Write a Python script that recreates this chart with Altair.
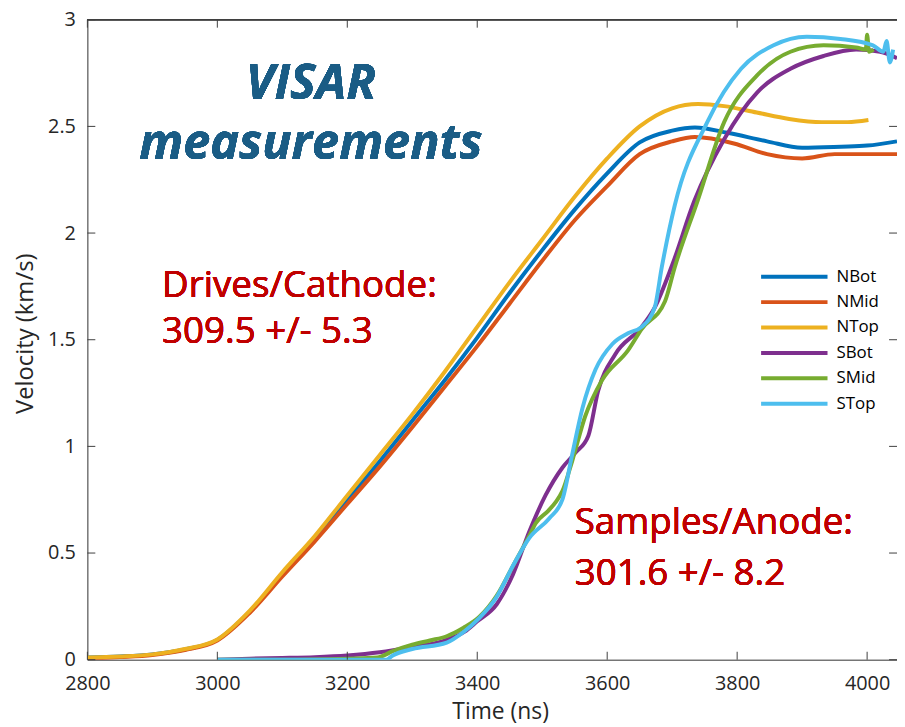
import altair as alt
import pandas as pd

# ---------------- data ----------------
series_names = ["NBot", "NMid", "NTop", "SBot", "SMid", "STop"]
series_colors = ["#0072BD", "#D95319", "#EDB120", "#7E2F8E", "#77AC30", "#4DBEEE"]

t_nbot = [2800, 2850, 2900, 2950, 3000, 3050, 3100, 3150, 3200, 3250, 3300, 3350, 3400, 3450,
          3500, 3550, 3600, 3650, 3700, 3735, 3785, 3846, 3900, 3960, 4000, 4046]
v_nbot = [0.01, 0.015, 0.025, 0.048, 0.093, 0.225, 0.40, 0.57, 0.75, 0.93, 1.12, 1.31, 1.51, 1.72,
          1.92, 2.11, 2.28, 2.425, 2.48, 2.495, 2.47, 2.43, 2.40, 2.405, 2.41, 2.43]

t_nmid = [2800, 2850, 2900, 2950, 3000, 3050, 3100, 3150, 3200, 3250, 3300, 3350, 3400, 3450,
          3500, 3550, 3600, 3650, 3700, 3735, 3795, 3846, 3900, 3950, 3990, 4046]
v_nmid = [0.005, 0.012, 0.022, 0.045, 0.09, 0.22, 0.39, 0.555, 0.73, 0.905, 1.09, 1.28, 1.47, 1.67,
          1.87, 2.06, 2.22, 2.37, 2.43, 2.45, 2.42, 2.37, 2.35, 2.37, 2.37, 2.37]

t_ntop = [2800, 2850, 2900, 2950, 3000, 3050, 3100, 3150, 3200, 3250, 3300, 3350, 3400, 3450,
          3500, 3550, 3600, 3650, 3700, 3740, 3780, 3830, 3880, 3930, 3970, 4002]
v_ntop = [0.01, 0.015, 0.025, 0.05, 0.095, 0.23, 0.41, 0.58, 0.77, 0.96, 1.15, 1.35, 1.56, 1.77,
          1.97, 2.17, 2.35, 2.50, 2.585, 2.605, 2.595, 2.565, 2.535, 2.52, 2.52, 2.53]

t_sbot = [3000, 3050, 3100, 3150, 3200, 3250, 3300, 3350, 3380, 3400, 3430, 3455, 3480, 3505,
          3531, 3551, 3571, 3586, 3612, 3653, 3673, 3700, 3734, 3780, 3831, 3882, 3933, 3983,
          4020, 4046]
v_sbot = [0.0, 0.005, 0.008, 0.012, 0.02, 0.035, 0.06, 0.09, 0.13, 0.18, 0.26, 0.40, 0.60, 0.77,
          0.90, 0.97, 1.05, 1.26, 1.43, 1.56, 1.65, 1.85, 2.15, 2.44, 2.66, 2.77, 2.83, 2.86,
          2.85, 2.82]

t_smid = [3000, 3100, 3200, 3246, 3270, 3300, 3327, 3353, 3379, 3403, 3430, 3455, 3480, 3490,
          3510, 3521, 3531, 3546, 3566, 3592, 3632, 3653, 3689, 3704, 3739, 3780, 3831, 3882,
          3933, 3983, 3998, 4000, 4003, 4010]
v_smid = [0.0, 0.0, 0.005, 0.01, 0.04, 0.07, 0.09, 0.11, 0.15, 0.20, 0.30, 0.44, 0.58, 0.64,
          0.70, 0.74, 0.79, 0.93, 1.14, 1.31, 1.45, 1.55, 1.68, 1.84, 2.15, 2.52, 2.74, 2.85,
          2.88, 2.87, 2.86, 2.93, 2.85, 2.86]

t_stop = [3000, 3100, 3200, 3260, 3270, 3300, 3353, 3379, 3403, 3429, 3455, 3480, 3510, 3531,
          3546, 3562, 3582, 3608, 3632, 3653, 3673, 3684, 3704, 3754, 3806, 3856, 3907, 3959,
          4009, 4025, 4030, 4035, 4040]
v_stop = [0.0, 0.0, 0.0, 0.0, 0.02, 0.05, 0.08, 0.13, 0.195, 0.29, 0.44, 0.57, 0.66, 0.75,
          0.96, 1.18, 1.36, 1.48, 1.53, 1.56, 1.65, 1.84, 2.13, 2.52, 2.77, 2.88, 2.92, 2.91,
          2.88, 2.85, 2.90, 2.80, 2.86]

x_tick_values = [2800, 3000, 3200, 3400, 3600, 3800, 4000]
y_tick_values = [0, 0.5, 1, 1.5, 2, 2.5, 3]

title_lines = ["VISAR", "measurements"]
drives_lines = ["Drives/Cathode:", "309.5 +/- 5.3"]
samples_lines = ["Samples/Anode:", "301.6 +/- 8.2"]

# ---------------- build table ----------------
rows = []
for name, ts, vs in [("NBot", t_nbot, v_nbot), ("NMid", t_nmid, v_nmid), ("NTop", t_ntop, v_ntop),
                     ("SBot", t_sbot, v_sbot), ("SMid", t_smid, v_smid), ("STop", t_stop, v_stop)]:
    for i, (t, v) in enumerate(zip(ts, vs)):
        rows.append({"series": name, "t": t, "v": v, "idx": i})
df = pd.DataFrame(rows)

W, H = 816, 645
FONT = "Open Sans"
AX = "#404040"
TXT = "#262626"

x_scale = alt.Scale(domain=[2800, 4046], nice=False, zero=False)
y_scale = alt.Scale(domain=[0, 3], nice=False, zero=False)

x_axis = alt.Axis(values=x_tick_values, format="d", title="Time (ns)", ticks=False, grid=False,
                  domainColor=AX, domainWidth=1, labelFont=FONT, labelFontSize=20, labelColor=TXT,
                  labelBaseline="alphabetic", labelPadding=30, labelFlush=False, labelOverlap=False,
                  titleFont=FONT, titleFontSize=23, titleFontWeight="normal", titleColor=TXT,
                  titleBaseline="alphabetic", titleX=W / 2 + 8, titleY=59)
y_axis = alt.Axis(values=y_tick_values, format="~g", title="Velocity (km/s)", ticks=False, grid=False,
                  domainColor=AX, domainWidth=1, labelFont=FONT, labelFontSize=20, labelColor=TXT,
                  labelPadding=12, labelFlush=False, labelOverlap=False,
                  titleFont=FONT, titleFontSize=24, titleFontWeight="normal", titleColor=TXT,
                  titleBaseline="middle", titleAlign="center", titleAngle=270,
                  titleX=-62, titleY=316)

legend = alt.Legend(title=None, orient="none", legendX=677, legendY=249, symbolType="stroke",
                    symbolSize=4480, symbolStrokeWidth=4, labelFont=FONT, labelFontSize=17,
                    labelColor="#000000", labelOffset=7, rowPadding=5.6, clipHeight=20, padding=0)

lines = alt.Chart(df).mark_line(strokeWidth=4, clip=True, interpolate="monotone").encode(
    x=alt.X("t:Q", scale=x_scale, axis=x_axis),
    y=alt.Y("v:Q", scale=y_scale, axis=y_axis),
    color=alt.Color("series:N", scale=alt.Scale(domain=series_names, range=series_colors), legend=legend),
    order="idx:Q",
)

xt = pd.DataFrame({"t": x_tick_values})
yt = pd.DataFrame({"v": y_tick_values})
bottom_ticks = alt.Chart(xt).mark_rule(color=AX, strokeWidth=1).encode(
    x=alt.X("t:Q", scale=x_scale), y=alt.value(H), y2=alt.value(H - 8))
top_ticks = alt.Chart(xt).mark_rule(color=AX, strokeWidth=1).encode(
    x=alt.X("t:Q", scale=x_scale), y=alt.value(0), y2=alt.value(8))
left_ticks = alt.Chart(yt).mark_rule(color=AX, strokeWidth=1).encode(
    y=alt.Y("v:Q", scale=y_scale), x=alt.value(0), x2=alt.value(8))
right_ticks = alt.Chart(yt).mark_rule(color=AX, strokeWidth=1).encode(
    y=alt.Y("v:Q", scale=y_scale), x=alt.value(W), x2=alt.value(W - 8))
top_line = alt.Chart(xt).mark_rule(color=AX, strokeWidth=1).encode(
    x=alt.value(0), x2=alt.value(W), y=alt.value(0))

BLUE = "#1A5C85"
visar = alt.Chart(xt).mark_text(text=title_lines, font=FONT, fontSize=49, fontStyle="italic",
                                fontWeight="bold", color=BLUE, align="center", lineHeight=60,
                                baseline="alphabetic").encode(x=alt.datum(3144), y=alt.datum(2.628))

def red(txt, x, y, lh):
    return alt.Chart(xt).mark_text(text=txt, font=FONT, fontSize=37, color="#C00000", lineHeight=lh,
                                   align="left", baseline="alphabetic").encode(
        x=alt.datum(x), y=alt.datum(y))

chart = alt.layer(
    lines, bottom_ticks, top_ticks, left_ticks, right_ticks, top_line,
    visar,
    red(drives_lines, 2915, 1.698, 46),
    red(samples_lines, 3550, 0.591, 52),
).properties(
    width=W, height=H,
    autosize=alt.AutoSizeParams(type="none"),
    padding={"left": 80, "top": 9, "right": 0, "bottom": 65},
).configure_view(stroke=None).configure(background="white")

chart.save("out.html", embed_options={"renderer": "svg", "actions": False})
